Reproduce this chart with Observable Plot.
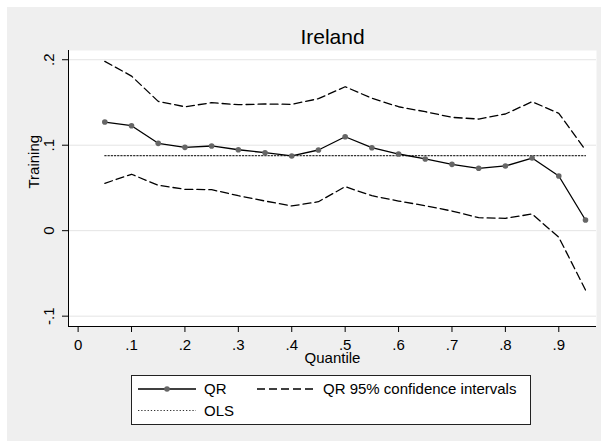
<!DOCTYPE html>
<html><head><meta charset="utf-8">
<script src="https://cdn.jsdelivr.net/npm/d3@7"></script>
<script src="https://cdn.jsdelivr.net/npm/@observablehq/plot@0.6"></script>
<style>
html,body{margin:0;padding:0;background:#fff;}
#wrap{position:relative;width:601px;height:441px;overflow:hidden;font-family:"Liberation Sans",Arial,sans-serif;}
#bg{position:absolute;left:7px;top:7px;right:0;bottom:0;background:#efefef;}
#chart{position:absolute;left:0;top:0;}
#legend{position:absolute;left:131px;top:375px;width:400px;height:50px;}
</style></head><body>
<div id="wrap"><div id="bg"></div><div id="chart"></div><div id="legend"></div></div>
<script>
const titleText = "Ireland";
const xLabel = "Quantile";
const yLabel = "Training";
const quantiles = [0.05,0.10,0.15,0.20,0.25,0.30,0.35,0.40,0.45,0.50,0.55,0.60,0.65,0.70,0.75,0.80,0.85,0.90,0.95];
const qrValues  = [0.1271,0.1228,0.1022,0.0975,0.0991,0.0947,0.0912,0.0874,0.0944,0.1099,0.0971,0.0897,0.0839,0.0776,0.0730,0.0757,0.0850,0.0640,0.0125];
const ciUpper   = [0.1981,0.1809,0.1513,0.1450,0.1497,0.1474,0.1482,0.1478,0.1544,0.1684,0.1549,0.1450,0.1392,0.1326,0.1306,0.1365,0.1509,0.1373,0.0944];
const ciLower   = [0.0554,0.0660,0.0531,0.0484,0.0480,0.0409,0.0347,0.0289,0.0339,0.0515,0.0409,0.0347,0.0292,0.0230,0.0152,0.0145,0.0195,-0.0077,-0.0694];
const olsValue  = 0.0877;
const xTicks = [0,0.1,0.2,0.3,0.4,0.5,0.6,0.7,0.8,0.9];
const xTickLabels = ["0",".1",".2",".3",".4",".5",".6",".7",".8",".9"];
const yTicks = [-0.1,0,0.1,0.2];
const yTickLabels = ["-.1","0",".1",".2"];
const xDomain = [-0.018, 0.9706];
const yDomain = [-0.1121, 0.2108];
const legendLabels = ["QR","QR 95% confidence intervals","OLS"];

const rows = quantiles.map((q,i)=>({q, qr: qrValues[i], lo: ciLower[i], hi: ciUpper[i], ols: olsValue}));
const font = "Liberation Sans, Arial, sans-serif";
const dash = "8,4";
const dots = "1.3,1.9";

const plot = Plot.plot({
  width: 601, height: 370,
  marginLeft: 68, marginRight: 5, marginTop: 50, marginBottom: 44,
  style: {background: "transparent", fontFamily: font, fontSize: "15px", color: "#000", overflow: "visible"},
  x: {domain: xDomain},
  y: {domain: yDomain},
  marks: [
    Plot.frame({fill: "#fff", stroke: "none"}),
    Plot.gridY(yTicks, {stroke: "#e4e4e4", strokeOpacity: 1, strokeWidth: 1}),
    Plot.line(rows, {x: "q", y: "ols", stroke: "#333", strokeWidth: 1.2, strokeDasharray: dots}),
    Plot.line(rows, {x: "q", y: "hi", stroke: "#000", strokeWidth: 1.3, strokeDasharray: dash}),
    Plot.line(rows, {x: "q", y: "lo", stroke: "#000", strokeWidth: 1.3, strokeDasharray: dash}),
    Plot.line(rows, {x: "q", y: "qr", stroke: "#000", strokeWidth: 1.3}),
    Plot.dot(rows, {x: "q", y: "qr", r: 2.8, fill: "#666", stroke: "none"}),
    Plot.ruleX([xDomain[0]], {stroke: "#000", strokeWidth: 1}),
    Plot.ruleY([yDomain[0]], {stroke: "#000", strokeWidth: 1}),
    Plot.axisX(xTicks, {tickSize: 6, tickPadding: 7, fontSize: 15, label: null,
      tickFormat: d => xTickLabels[xTicks.indexOf(d)]}),
    Plot.axisY(yTicks, {tickSize: 6, text: null, label: null}),
    Plot.text(yTicks, {y: d => d, text: d => yTickLabels[yTicks.indexOf(d)], frameAnchor: "left",
      dx: -14.4, rotate: -90, lineAnchor: "bottom", textAnchor: "middle", fontSize: 15}),
    Plot.text([xLabel], {text: d => d, frameAnchor: "bottom", dy: 36.5, lineAnchor: "bottom", fontSize: 15}),
    Plot.text([yLabel], {text: d => d, frameAnchor: "left", dx: -29.7, rotate: -90, lineAnchor: "bottom", fontSize: 15}),
    Plot.text([titleText], {text: d => d, frameAnchor: "top", dy: -6.7, lineAnchor: "bottom", fontSize: 21})
  ]
});
document.getElementById("chart").appendChild(plot);

// Legend
const lg = d3.select("#legend").append("svg").attr("width", 400).attr("height", 50)
  .style("font-family", font).style("font-size", "15px");
lg.append("rect").attr("x", 0.5).attr("y", 0.5).attr("width", 399).attr("height", 49)
  .attr("fill", "#fff").attr("stroke", "#222");
const r1 = 14, r2 = 35.5;
lg.append("line").attr("x1", 7).attr("x2", 65).attr("y1", r1).attr("y2", r1).attr("stroke", "#000").attr("stroke-width", 1.3);
lg.append("circle").attr("cx", 36).attr("cy", r1).attr("r", 2.8).attr("fill", "#666");
lg.append("text").attr("x", 73).attr("y", r1 + 5.3).text(legendLabels[0]);
lg.append("line").attr("x1", 126).attr("x2", 183).attr("y1", r1).attr("y2", r1).attr("stroke", "#000").attr("stroke-width", 1.3).attr("stroke-dasharray", dash);
lg.append("text").attr("x", 192).attr("y", r1 + 5.3).text(legendLabels[1]);
lg.append("line").attr("x1", 7).attr("x2", 65).attr("y1", r2).attr("y2", r2).attr("stroke", "#333").attr("stroke-width", 1.2).attr("stroke-dasharray", dots);
lg.append("text").attr("x", 73).attr("y", r2 + 5.3).text(legendLabels[2]);
</script>
</body></html>
